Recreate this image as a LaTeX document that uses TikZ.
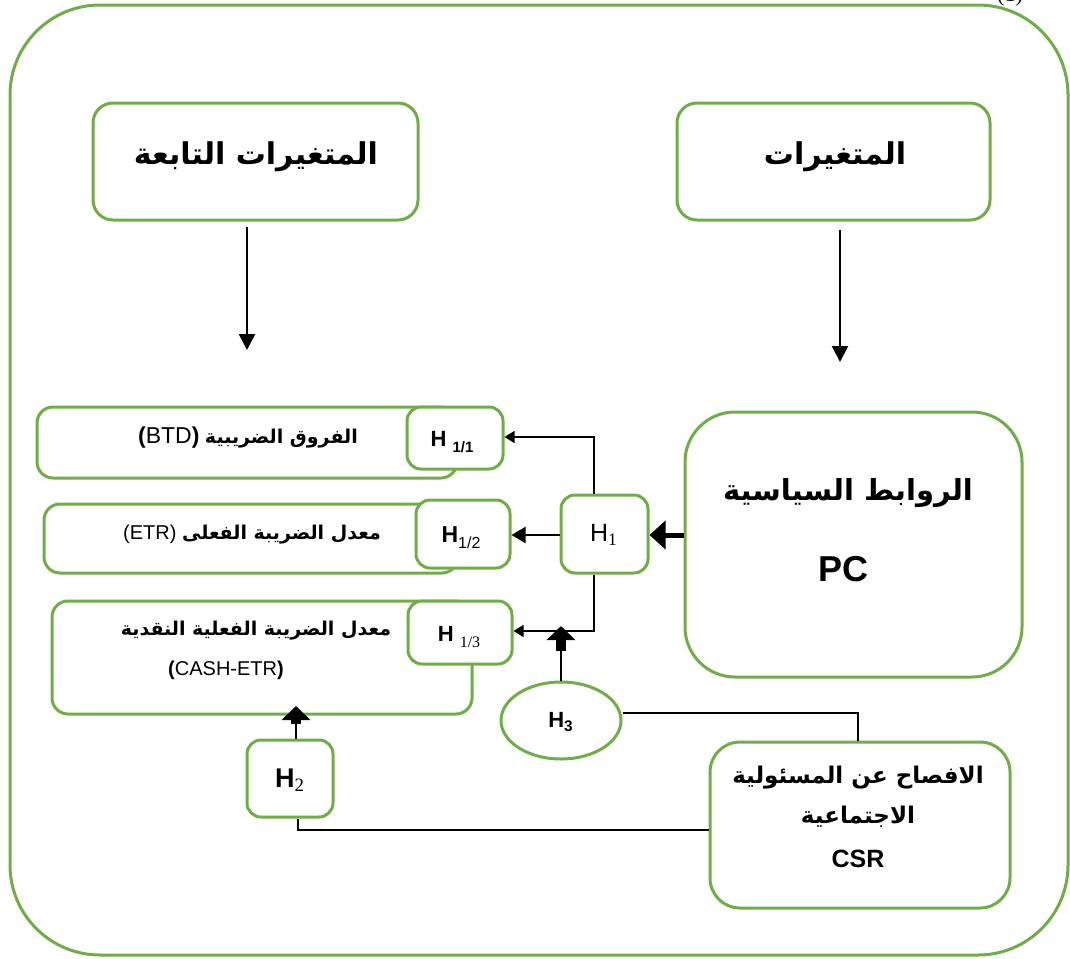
\documentclass[tikz,border=0pt]{standalone}
\usepackage{fontspec}
\setmainfont{Liberation Sans}
\newfontfamily\ar[Script=Arabic]{DejaVu Sans}
\newfontfamily\tms{Liberation Serif}
\TeXXeTstate=1
\usetikzlibrary{arrows.meta,shapes.geometric}
\definecolor{grn}{RGB}{112,173,71}
\begin{document}
\begin{tikzpicture}[x=0.5pt,y=-0.5pt,
  gbox/.style={draw=grn, line width=1.5pt, rounded corners=#1, inner sep=0pt, fill=white},
  gbox/.default=6pt,
  thin/.style={draw=black, line width=0.7pt},
  downarr/.style={draw=black, line width=1.3pt, -{Triangle[width=8pt,length=8pt]}},
  smallarr/.style={draw=black, line width=0.7pt, -{Triangle[width=6pt,length=5pt]}},
  midarr/.style={draw=black, line width=1pt, -{Triangle[width=8pt,length=7pt]}},
  blockarr/.style={draw=black, line width=5pt, -{Triangle[width=14pt,length=7pt]}},
  artxt/.style={font=\ar\bfseries\fontsize{#1}{18}\selectfont, inner sep=0pt, align=center},
]
\useasboundingbox (0,0) rectangle (1070,958);

% outer frame
\node[draw=grn, line width=1.5pt, rounded corners=45pt, minimum width=529pt, minimum height=475pt, inner sep=0pt] (frame) at (539,480) {};
\node[font=\tms\fontsize{11}{13}\selectfont, inner sep=0pt] (fig) at (1010,-4) {(1)};

% top boxes
\node[gbox=10pt, minimum width=162.5pt, minimum height=58.5pt] (dep) at (255.5,161.5) {};
\node[artxt=15] (depT) at (256,157) {\beginR المتغيرات التابعة\endR};
\node[gbox=10pt, minimum width=156.5pt, minimum height=58.5pt] (ind) at (833.5,161.5) {};
\node[artxt=15] (indT) at (835,157) {\beginR المتغيرات\endR};

\coordinate (a1) at (247,350);
\coordinate (a2) at (840,362);
\draw[downarr] ([yshift=-2.5pt]dep.south -| a1) -- (a1);
\draw[downarr] ([yshift=-4pt]ind.south -| a2) -- (a2);

% PC box
\node[gbox=25pt, minimum width=168.5pt, minimum height=132.5pt] (pc) at (853.5,544.5) {};
\node[artxt=14.5] (pcT) at (848,493) {\beginR الروابط السياسية\endR};
\node[font=\bfseries\fontsize{18}{20}\selectfont, inner sep=0pt] (pcL) at (843,569) {PC};

% H1
\node[gbox=7pt, minimum width=43.5pt, minimum height=39pt] (h1) at (604.5,534) {};
\node[font=\fontsize{12.5}{14}\selectfont, inner sep=0pt] (h1T) at (604,535) {H\textsubscript{\tms 1}};

% dependent variable boxes
\node[gbox=8pt, minimum width=210pt, minimum height=35.5pt] (btd) at (247,442.5) {};
\node[gbox=7pt, minimum width=48pt, minimum height=31pt] (h11) at (455,438) {};
\node[inner sep=0pt] (btdT) at (248,438) {{\bfseries\fontsize{11.5}{13}\selectfont(}{\fontsize{11.5}{13}\selectfont BTD}{\bfseries\fontsize{11.5}{13}\selectfont)}\ {\ar\bfseries\fontsize{9.5}{12}\selectfont\beginR الفروق الضريبية\endR}};
\node[font=\bfseries\fontsize{11}{13}\selectfont, inner sep=0pt] (h11T) at (452,442) {H {\fontsize{7.5}{9}\selectfont\raisebox{-3pt}{1/1}}};

\node[gbox=8pt, minimum width=207pt, minimum height=34.5pt] (etr) at (251,538.5) {};
\node[gbox=7pt, minimum width=47pt, minimum height=34pt] (h12) at (463,534) {};
\node[inner sep=0pt] (etrT) at (252,535) {{\fontsize{10}{12}\selectfont(ETR)}\ {\ar\bfseries\fontsize{9.5}{12}\selectfont\beginR معدل الضريبة الفعلى\endR}};
\node[font=\bfseries\fontsize{11.5}{13}\selectfont, inner sep=0pt] (h12T) at (461,538) {H{\mdseries\fontsize{8}{9}\selectfont\raisebox{-3pt}{1/2}}};

\node[gbox=8pt, minimum width=210pt, minimum height=56.5pt] (cash) at (262,657.5) {};
\node[gbox=7pt, minimum width=52pt, minimum height=31.5pt] (h13) at (460,632.5) {};
\node[artxt=9.5] (cashT1) at (256,631) {\beginR معدل الضريبة الفعلية النقدية\endR};
\node[inner sep=0pt] (cashT2) at (226,670) {{\bfseries\fontsize{10}{12}\selectfont(}{\fontsize{10}{12}\selectfont CASH-ETR}{\bfseries\fontsize{10}{12}\selectfont)}};
\node[font=\bfseries\fontsize{11}{13}\selectfont, inner sep=0pt] (h13T) at (459,637) {H {\mdseries\tms\fontsize{8}{9}\selectfont\raisebox{-3pt}{1/3}}};

% H3 ellipse
\node[draw=grn, line width=1.5pt, ellipse, minimum width=60pt, minimum height=38.5pt, inner sep=0pt] (h3) at (561,720.5) {};
\node[font=\bfseries\fontsize{11}{13}\selectfont, inner sep=0pt] (h3T) at (561,722) {H\textsubscript{3}};

% CSR box
\node[gbox=15pt, minimum width=150pt, minimum height=83pt] (csr) at (860,825) {};
\node[artxt=11.5] (csrT) at (858,797) {\beginR الافصاح عن المسئولية\endR\\[2pt]\beginR الاجتماعية\endR};
\node[font=\bfseries\fontsize{12.5}{14}\selectfont, inner sep=0pt] (csrL) at (858,859) {CSR};

% H2
\node[gbox=7pt, minimum width=43pt, minimum height=38.5pt] (h2) at (290,778.5) {};
\node[font=\bfseries\fontsize{13.5}{15}\selectfont, inner sep=0pt] (h2T) at (290,780) {H\textsubscript{\mdseries\tms 2}};

% connectors
\coordinate (pcin) at (684,535);
\draw[draw=black, line width=2.5pt, -{Triangle[width=14pt,length=8pt]}] (pc.west |- pcin) -- (h1.east |- pcin);
\draw[midarr] (h1.west |- pcin) -- (h12.east |- pcin);

\coordinate (k1) at (594,437);
\draw[smallarr] (h1.north -| k1) -- (k1) -- (h11.east |- k1);
\coordinate (k2) at (594,631);
\draw[smallarr] (h1.south -| k2) -- (k2) -- (h13.east |- k2);

\coordinate (u3) at (561,651);
\draw[thin, line width=0.9pt] (h3.north) -- (u3);
\draw[blockarr] (u3) -- (561,626);

\coordinate (u2) at (296,724);
\draw[thin, line width=0.9pt] (h2.north -| u2) -- (u2);
\draw[blockarr] (u2) -- (296,706);

\coordinate (k3) at (858,713);
\draw[thin] (h3.east |- k3) -- (k3) -- (k3 |- csr.north);
\coordinate (k4) at (298,830);
\draw[thin, line width=0.9pt] (h2.south -| k4) -- (k4) -- (csr.west |- k4);
\end{tikzpicture}
\end{document}
